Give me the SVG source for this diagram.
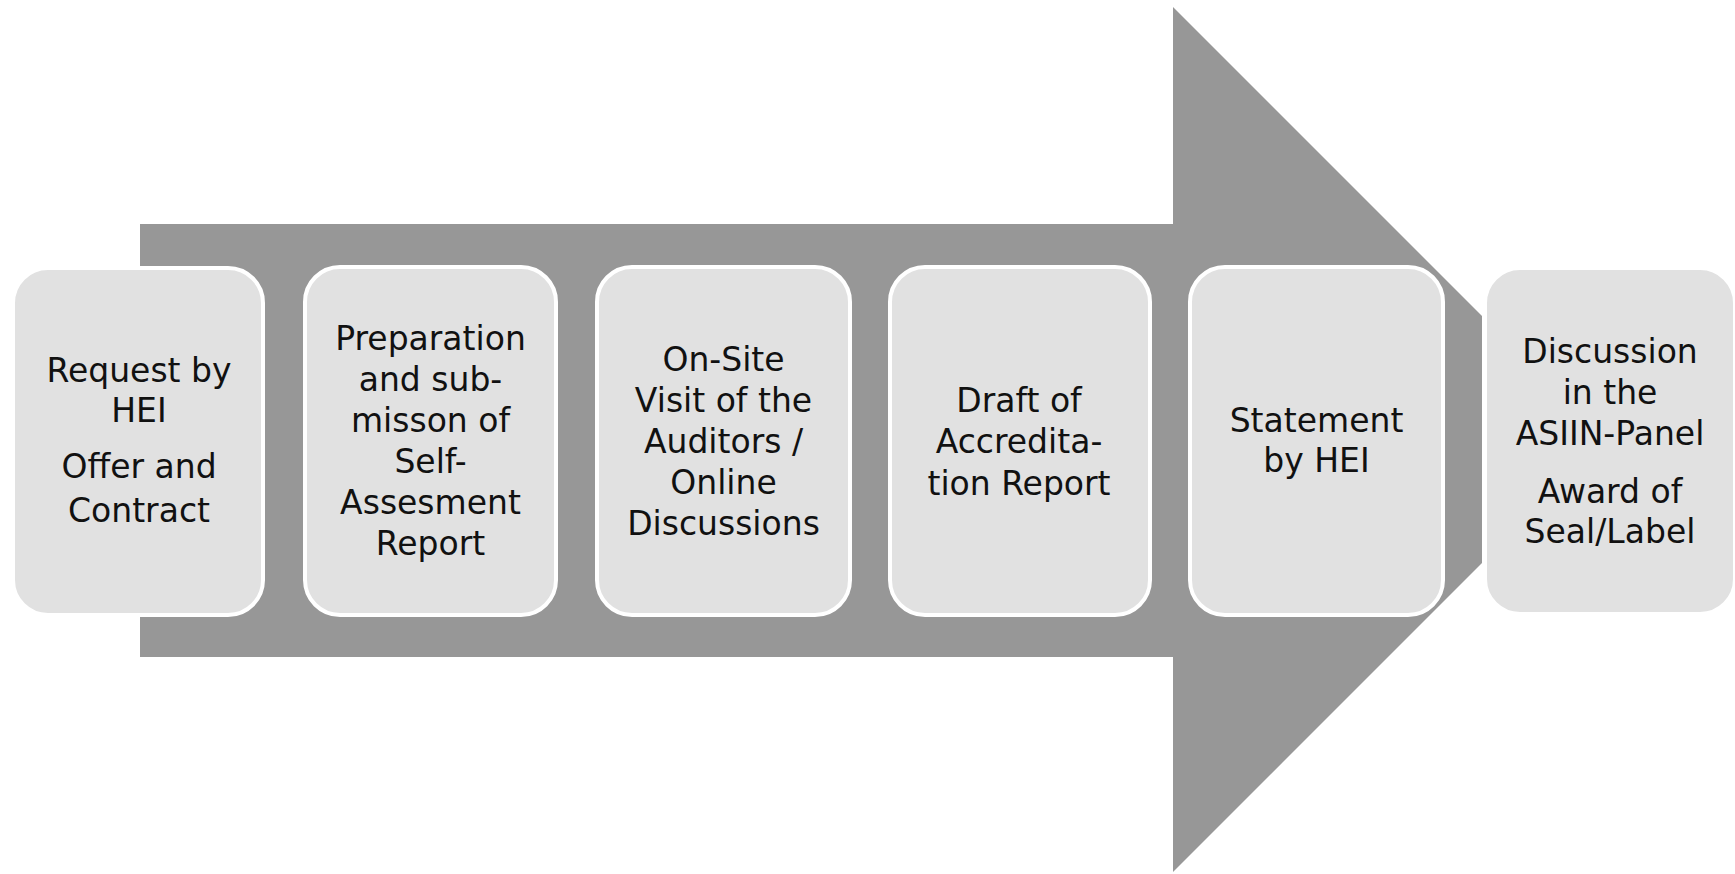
<svg xmlns="http://www.w3.org/2000/svg" width="1735" height="874" viewBox="0 0 1735 874">
<style>
.box{fill:#e1e1e1;stroke:#ffffff;stroke-width:4}
.t{font-family:"DejaVu Sans","Liberation Sans",sans-serif;font-size:33px;fill:#111111;text-anchor:middle}
</style>
<rect width="1735" height="874" fill="#ffffff"/>
<g id="connectors">
<polygon id="arrow" points="140,224 1173,224 1173,7 1482,316 1482,563 1173,872 1173,657 140,657" fill="#979797"/>
</g>
<g id="n1">
<rect class="box" x="13" y="268" width="250" height="347" rx="35"/>
<text class="t" x="139" y="382">Request by</text>
<text class="t" x="139" y="422">HEI</text>
<text class="t" x="139" y="478">Offer and</text>
<text class="t" x="139" y="522">Contract</text>
</g>
<g id="n2">
<rect class="box" x="305" y="267" width="251" height="348" rx="35"/>
<text class="t" x="430.5" y="350">Preparation</text>
<text class="t" x="430.5" y="391">and sub-</text>
<text class="t" x="430.5" y="432">misson of</text>
<text class="t" x="430.5" y="473">Self-</text>
<text class="t" x="430.5" y="514">Assesment</text>
<text class="t" x="430.5" y="555">Report</text>
</g>
<g id="n3">
<rect class="box" x="597" y="267" width="253" height="348" rx="35"/>
<text class="t" x="723.5" y="371">On-Site</text>
<text class="t" x="723.5" y="412">Visit of the</text>
<text class="t" x="723.5" y="453">Auditors /</text>
<text class="t" x="723.5" y="494">Online</text>
<text class="t" x="723.5" y="535">Discussions</text>
</g>
<g id="n4">
<rect class="box" x="890" y="267" width="260" height="348" rx="35"/>
<text class="t" x="1019" y="412">Draft of</text>
<text class="t" x="1019" y="453">Accredita-</text>
<text class="t" x="1019" y="495">tion Report</text>
</g>
<g id="n5">
<rect class="box" x="1190" y="267" width="253" height="348" rx="35"/>
<text class="t" x="1316.5" y="432">Statement</text>
<text class="t" x="1316.5" y="472">by HEI</text>
</g>
<g id="n6">
<rect class="box" x="1485" y="268" width="250" height="346" rx="35"/>
<text class="t" x="1610" y="363">Discussion</text>
<text class="t" x="1610" y="404">in the</text>
<text class="t" x="1610" y="445">ASIIN-Panel</text>
<text class="t" x="1610" y="503">Award of</text>
<text class="t" x="1610" y="543">Seal/Label</text>
</g>
</svg>
